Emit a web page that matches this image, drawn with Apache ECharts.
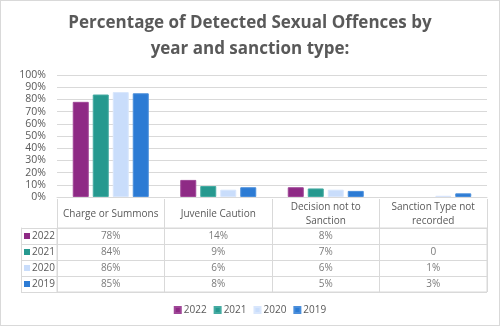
<!DOCTYPE html>
<html>
<head>
<meta charset="utf-8">
<script src="https://cdn.jsdelivr.net/npm/echarts@6/dist/echarts.min.js"></script>
<style>
html,body{margin:0;padding:0;background:#fff;}
#c{width:500px;height:326px;box-sizing:border-box;border:1px solid #D9D9D9;}
</style>
</head>
<body>
<div id="c"></div>
<script>
const titleText = 'Percentage of Detected Sexual Offences by\nyear and sanction type:';
const categories = ['Charge or Summons', 'Juvenile Caution', 'Decision not to\nSanction', 'Sanction Type not\nrecorded'];
const years = ['2022', '2021', '2020', '2019'];
const v2022 = [78, 14, 8, null];
const v2021 = [84, 9, 7, 0];
const v2020 = [86, 6, 6, 1];
const v2019 = [85, 8, 5, 3];
const yTicks = [0, 10, 20, 30, 40, 50, 60, 70, 80, 90, 100];
const colors = ['#8E2A85', '#26998F', '#C9DDFB', '#2C7BD4'];
const borders = ['#9F4697', '#45ABA2', '#D8E6FC', '#4A8EDB'];
const values = [v2022, v2021, v2020, v2019];

const FONT = 'Open Sans';
const TXT = '#595959';
const LINE = '#D9D9D9';
const FS = 10;

const chart = echarts.init(document.getElementById('c'));

const barSeries = years.map((y, i) => ({
  name: y,
  type: 'bar',
  xAxisIndex: 0,
  yAxisIndex: 0,
  barWidth: 16,
  barGap: '25%',
  data: values[i].map(v => (v === 0 ? { value: v, itemStyle: { borderWidth: 0 } } : v)),
  itemStyle: { color: colors[i], borderColor: borders[i], borderWidth: 1 }
}));

const cellData = [];
years.forEach((y, i) => {
  categories.forEach((c, j) => {
    const v = values[i][j];
    if (v !== null && v !== undefined) cellData.push([j, i, v]);
  });
});

const rich = {};
years.forEach((y, i) => {
  rich['s' + i] = { width: 6, height: 6, backgroundColor: colors[i] };
  rich['t' + i] = { color: TXT, fontSize: FS, fontFamily: FONT, padding: [0, 0, 0, 2] };
});

chart.setOption({
  animation: false,
  color: colors,
  textStyle: { fontFamily: FONT },
  title: {
    text: titleText,
    left: 'center',
    top: 4,
    textStyle: { fontFamily: FONT, fontSize: 17, fontWeight: 'bold', color: TXT, lineHeight: 26 }
  },
  legend: {
    data: years,
    bottom: 5,
    left: 'center',
    icon: 'rect',
    itemWidth: 6,
    itemHeight: 6,
    itemGap: 7,
    textStyle: { color: TXT, fontSize: FS, fontFamily: FONT, padding: [0, 0, 0, -2] }
  },
  grid: [
    { left: 56, right: 12, top: 74, bottom: 128, containLabel: false },
    { left: 56, right: 12, top: 227, bottom: 33, containLabel: false, show: true, borderColor: LINE, borderWidth: 1, backgroundColor: 'transparent' }
  ],
  xAxis: [
    {
      type: 'category', gridIndex: 0, data: categories,
      axisLine: { show: true, lineStyle: { color: LINE } },
      axisTick: { show: false }, axisLabel: { show: false }, splitLine: { show: false }
    },
    {
      type: 'category', gridIndex: 1, data: categories, position: 'top',
      axisLine: { show: true, lineStyle: { color: LINE } },
      axisTick: { show: true, length: 29, interval: 0, lineStyle: { color: LINE } },
      axisLabel: { show: true, interval: 0, margin: 14, verticalAlign: 'middle', color: TXT, fontSize: FS, fontFamily: FONT, lineHeight: 14 },
      splitLine: { show: true, interval: 0, lineStyle: { color: LINE } }
    }
  ],
  yAxis: [
    {
      type: 'value', gridIndex: 0, min: yTicks[0], max: yTicks[yTicks.length - 1], interval: 10,
      axisLabel: { formatter: '{value}%', color: TXT, fontSize: 10.5, fontFamily: FONT, margin: 11 },
      axisLine: { show: false }, axisTick: { show: false },
      splitLine: { lineStyle: { color: LINE } }
    },
    {
      type: 'category', gridIndex: 1, data: years, inverse: true,
      axisLine: { show: true, lineStyle: { color: LINE } },
      axisTick: { show: true, length: 36, interval: 0, lineStyle: { color: LINE } },
      axisLabel: {
        show: true, interval: 0, margin: 33, align: 'left',
        formatter: (val, idx) => '{s' + idx + '|}{t' + idx + '|' + val + '}',
        rich: rich
      },
      splitLine: { show: true, interval: 0, lineStyle: { color: LINE } }
    },
    {
      type: 'category', gridIndex: 1, data: years, inverse: true, position: 'left', offset: 36,
      axisLine: { show: true, lineStyle: { color: LINE } },
      axisTick: { show: false }, axisLabel: { show: false }, splitLine: { show: false }
    }
  ],
  series: barSeries.concat([{
    type: 'scatter',
    xAxisIndex: 1,
    yAxisIndex: 1,
    symbolSize: 1,
    itemStyle: { color: 'rgba(0,0,0,0)' },
    silent: true,
    data: cellData,
    label: {
      show: true, position: 'inside', color: TXT, fontSize: FS, fontFamily: FONT,
      formatter: p => (p.value[2] === 0 ? '0' : p.value[2] + '%')
    },
    tooltip: { show: false }
  }])
});
</script>
</body>
</html>
